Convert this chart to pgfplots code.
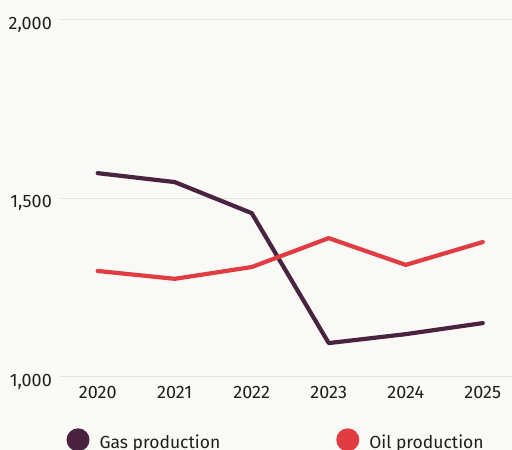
\documentclass[border=0pt]{standalone}
\usepackage{fontspec}
\setmainfont{Fira Sans}
\usepackage{pgfplots}
\pgfplotsset{compat=1.18}
\definecolor{bg}{HTML}{F9F9F5}
\definecolor{gas}{HTML}{4A2340}
\definecolor{oil}{HTML}{E13C42}
\definecolor{gridc}{HTML}{E3E3DF}
\begin{document}
\begin{tikzpicture}[x=1pt,y=1pt]
\fill[bg] (-60,-73) rectangle (452,377);
\useasboundingbox (-60,-73) rectangle (452,377);
\begin{axis}[
    at={(0,0)}, anchor=south west,
    scale only axis,
    width=452pt, height=357pt,
    xmin=2019.51, xmax=2025.38,
    ymin=1000, ymax=2000,
    xtick={2020,2021,2022,2023,2024,2025},
    ytick={1000,1500,2000},
    xticklabel={\pgfmathprintnumber[1000 sep={}]{\tick}},
    yticklabel={\pgfmathprintnumber[1000 sep={,}]{\tick}},
    /pgf/number format/assume math mode=true,
    axis line style={draw=none},
    major tick length=0pt,
    ymajorgrids,
    grid style={gridc, line width=1pt},
    tick label style={font=\fontsize{18}{21}\selectfont, text=black!88, inner sep=0pt},
    xticklabel style={anchor=base, yshift=-22pt},
    yticklabel style={anchor=base east, xshift=-8pt, yshift=-9.5pt},
    legend columns=2,
    legend style={at={(rel axis cs:0.0144,-0.176)}, anchor=west, draw=none, fill=none,
        inner sep=0pt, outer sep=0pt, column sep=10pt,
        font=\fontsize{17.5}{21}\selectfont, text=black!88,
        nodes={inner sep=0pt},
        /tikz/every even column/.append style={column sep=116pt}},
    legend image code/.code={\fill[#1, draw=none] (11.5pt,3pt) circle (11.5pt);},
]
\addplot[gas, line width=4.2pt, line join=round, line cap=round] coordinates {
    (2020,1571) (2021,1546) (2022,1459) (2023,1095) (2024,1120) (2025,1151)};
\addlegendentry{Gas production}
\addplot[oil, line width=4.2pt, line join=round, line cap=round] coordinates {
    (2020,1297) (2021,1275) (2022,1308) (2023,1389) (2024,1314) (2025,1378)};
\addlegendentry{Oil production}
\end{axis}
\end{tikzpicture}
\end{document}
